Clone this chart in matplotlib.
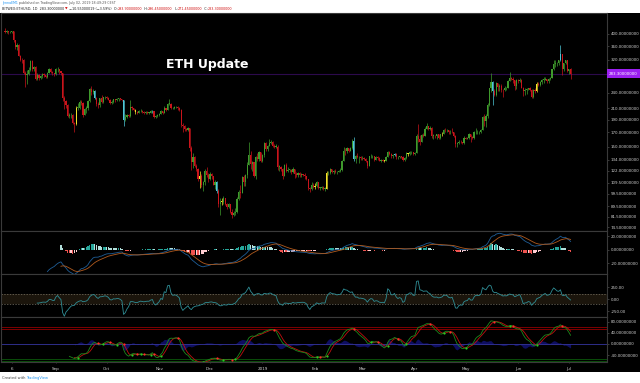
import numpy as np
import pandas as pd
import matplotlib
matplotlib.use('Agg')
import matplotlib.pyplot as plt
from matplotlib.patches import Rectangle
from matplotlib.ticker import FixedLocator, NullLocator, FormatStrFormatter

# daily ETHUSD candles, 2018-08-02 .. 2019-07-02
first_open = 412.0
closes = [
    # aug
    406, 409, 407, 408, 409, 378, 356, 364, 331, 320, 319, 286, 279, 282, 293,
    316, 294, 300, 271, 281, 273, 277, 283, 279, 275, 286, 295, 287, 284, 282,
    # sep
    295, 295, 289, 285, 229, 223, 216, 196, 197, 198, 185, 183, 211, 211, 222,
    220, 197, 209, 210, 224, 248, 241, 244, 229, 218, 216, 229, 221, 231, 232,
    # oct
    230, 226, 220, 222, 227, 225, 227, 229, 227, 225, 189, 195, 197, 196, 212,
    210, 207, 203, 202, 204, 205, 203, 201, 203, 202, 202, 204, 204, 194, 196, 198,
    # nov
    200, 204, 202, 211, 207, 218, 218, 210, 210, 212, 212, 211, 206, 182, 180,
    175, 173, 176, 149, 131, 137, 127, 124, 113, 116, 108, 110, 122, 117, 113,
    # dec
    118, 116, 108, 110, 102, 91, 93, 93, 96, 91, 89, 91, 85, 83, 84,
    85, 95, 101, 100, 115, 110, 117, 128, 140, 129, 131, 116, 137, 135, 143, 133,
    # jan
    140, 155, 147, 151, 155, 157, 151, 150, 150, 126, 126, 124, 116, 128, 122,
    123, 123, 120, 124, 118, 117, 119, 117, 118, 117, 116, 113, 105, 104, 108, 106,
    # feb
    107, 110, 105, 105, 106, 104, 104, 119, 119, 124, 120, 122, 120, 120,
    121, 123, 133, 145, 144, 148, 145, 148, 158, 135, 139, 137, 137, 136,
    # mar
    136, 135, 132, 127, 138, 138, 139, 134, 137, 136, 133, 134, 133, 133, 137,
    143, 141, 138, 140, 141, 137, 137, 138, 137, 134, 136, 142, 141, 143, 143, 141,
    # apr
    142, 164, 160, 157, 166, 165, 175, 179, 175, 177, 165, 165, 164, 168, 162,
    167, 168, 174, 173, 173, 170, 171, 170, 164, 154, 155, 157, 156, 155, 162,
    # may
    161, 162, 167, 163, 162, 170, 170, 170, 171, 173, 194, 187, 196, 216, 249,
    263, 244, 235, 261, 252, 255, 246, 245, 249, 251, 266, 272, 271, 268, 255, 268,
    # jun
    265, 269, 251, 243, 246, 247, 251, 245, 231, 246, 244, 260, 256, 263, 269,
    269, 271, 265, 271, 273, 294, 307, 310, 310, 318, 336, 294, 310, 319, 291,
    # jul
    293.9, 283.3,
]
highs = [
    421, 413, 411, 412, 412, 411, 380, 370, 366, 333, 325, 322, 289, 292, 300,
    320, 318, 303, 302, 285, 282, 280, 285, 284, 281, 288, 298, 298, 289, 286,
    297, 300, 296, 291, 286, 233, 226, 218, 202, 202, 200, 186, 213, 219, 225,
    225, 221, 211, 213, 226, 250, 255, 248, 245, 232, 222, 230, 235, 232, 234,
    234, 232, 227, 225, 228, 227, 229, 230, 230, 228, 225, 200, 199, 200, 225,
    214, 211, 208, 205, 206, 208, 206, 204, 204, 204, 203, 206, 206, 205, 198, 199,
    202, 206, 205, 214, 211, 220, 227, 219, 212, 213, 214, 213, 212, 208, 184,
    182, 177, 178, 177, 151, 142, 139, 129, 125, 121, 118, 111, 124, 126, 119,
    120, 119, 116, 112, 111, 104, 96, 96, 98, 96, 92, 92, 91, 87, 86,
    88, 97, 103, 108, 116, 117, 118, 131, 156, 144, 133, 131, 138, 142, 144, 143,
    141, 156, 156, 152, 160, 159, 158, 154, 153, 152, 128, 127, 125, 129, 130,
    126, 124, 124, 126, 124, 120, 120, 120, 119, 118, 119, 116, 113, 106, 110, 109,
    109, 111, 110, 106, 107, 107, 106, 121, 121, 125, 124, 123, 124, 121,
    123, 125, 134, 150, 148, 150, 149, 150, 160, 163, 140, 142, 138, 139,
    138, 137, 136, 133, 139, 141, 140, 139, 139, 138, 137, 135, 135, 134, 138,
    145, 144, 142, 141, 142, 142, 138, 139, 139, 138, 137, 143, 142, 144, 145, 143,
    143, 167, 183, 166, 167, 169, 178, 184, 180, 180, 178, 167, 166, 168, 168,
    168, 170, 175, 176, 175, 174, 173, 176, 171, 166, 157, 159, 159, 157, 164,
    163, 163, 169, 168, 165, 172, 176, 173, 172, 175, 196, 199, 199, 220, 251,
    284, 265, 247, 264, 262, 258, 260, 248, 254, 253, 267, 288, 275, 275, 268, 270,
    270, 272, 271, 253, 249, 249, 251, 253, 248, 247, 250, 264, 264, 265, 270,
    276, 276, 271, 272, 276, 296, 318, 320, 314, 318, 362, 336, 312, 320, 320,
    296, 296.45,
]
lows = [
    402, 402, 400, 403, 402, 374, 352, 348, 329, 315, 310, 282, 252, 259, 280,
    290, 290, 290, 267, 268, 269, 270, 272, 274, 272, 272, 284, 284, 279, 278,
    280, 288, 283, 280, 224, 208, 211, 195, 192, 193, 183, 170, 182, 206, 209,
    216, 194, 197, 201, 207, 222, 236, 237, 227, 214, 210, 212, 219, 220, 227,
    227, 225, 218, 218, 220, 222, 224, 224, 225, 223, 180, 188, 193, 194, 194,
    206, 205, 200, 199, 201, 203, 201, 199, 199, 200, 199, 201, 202, 192, 192, 194,
    196, 199, 200, 201, 205, 207, 216, 209, 208, 209, 210, 207, 205, 178, 170,
    172, 172, 172, 145, 123, 125, 126, 121, 111, 105, 106, 102, 108, 115, 110,
    112, 113, 108, 104, 100, 89, 83, 90, 91, 90, 87, 88, 84, 81, 82,
    83, 84, 94, 96, 100, 107, 107, 114, 128, 124, 122, 115, 113, 132, 133, 131,
    131, 137, 145, 145, 151, 154, 150, 148, 148, 123, 122, 121, 113, 116, 120,
    120, 120, 118, 119, 114, 115, 115, 115, 115, 116, 113, 112, 103, 101, 103, 105,
    104, 106, 104, 103, 104, 103, 102, 104, 117, 118, 119, 118, 119, 118,
    120, 120, 122, 132, 140, 142, 143, 144, 147, 133, 130, 136, 130, 134,
    134, 134, 131, 125, 127, 136, 136, 132, 134, 134, 132, 131, 132, 131, 132,
    137, 140, 136, 136, 139, 135, 135, 136, 136, 132, 133, 135, 139, 140, 141, 140,
    140, 142, 156, 152, 156, 163, 164, 175, 174, 173, 162, 160, 162, 161, 160,
    161, 165, 168, 171, 171, 168, 167, 169, 163, 150, 150, 154, 155, 153, 154,
    160, 160, 161, 156, 160, 161, 168, 168, 168, 169, 173, 180, 178, 193, 214,
    242, 215, 233, 233, 243, 244, 242, 232, 244, 246, 250, 266, 268, 262, 245, 248,
    262, 264, 250, 233, 236, 238, 245, 243, 229, 230, 240, 242, 254, 254, 260,
    262, 268, 262, 262, 268, 273, 292, 300, 302, 306, 316, 280, 291, 307, 287,
    283, 271.45,
]
# bars painted yellow / cyan by the chart's bar colouring
yellow_bars = [42, 77, 115, 128, 183, 190, 224, 238, 258, 314]
cyan_bars = [53, 70, 87, 125, 206, 230, 288, 328]

month_pos = [4, 30, 60, 91, 121, 152, 183, 211, 242, 272, 303, 333]
month_lbl = ['6', 'Sep', 'Oct', 'Nov', 'Dec', '2019', 'Feb', 'Mar', 'Apr',
             'May', 'Jun', 'Jul']
price_ticks = [400, 360, 320, 240, 210, 190, 170, 150, 134, 122, 109.5, 99.5,
               89.5, 81.5, 74.5]
last_price = 283.3

close = np.array(closes, float)
n = len(close)
idx = np.arange(n)
open_ = np.r_[first_open, close[:-1]]
high = np.maximum(np.array(highs, float), np.maximum(open_, close))
low = np.minimum(np.array(lows, float), np.minimum(open_, close))
hlc3 = (high + low + close) / 3


def ema(x, length):
    x = np.asarray(x, float)
    out = np.full(len(x), np.nan)
    ok = np.where(~np.isnan(x))[0]
    start = ok[0] + length - 1
    out[start] = x[ok[0]:start + 1].mean()
    a = 2.0 / (length + 1)
    for i in range(start + 1, len(x)):
        out[i] = a * x[i] + (1 - a) * out[i - 1]
    return out


def sma(x, length):
    return pd.Series(x).rolling(length).mean().values


# MACD 12/26/9
macd = ema(close, 12) - ema(close, 26)
signal = ema(macd, 9)
hist = macd - signal

# CCI 20
tp = pd.Series(hlc3)
md = tp.rolling(20).apply(lambda v: np.mean(np.abs(v - v.mean())), raw=True)
cci = ((tp - tp.rolling(20).mean()) / (0.015 * md)).values

# WaveTrend 10/21
esa = ema(hlc3, 10)
dd = ema(np.abs(hlc3 - esa), 10)
wt1 = ema((hlc3 - esa) / (0.015 * dd), 21)
wt2 = sma(wt1, 4)

W, H = 640, 383


def box(x0, y0, x1, y1):
    return [x0 / W, 1 - y1 / H, (x1 - x0) / W, (y1 - y0) / H]


fig = plt.figure(figsize=(6.4, 3.83), dpi=100, facecolor='white')
fig.add_artist(Rectangle((0, 1 - 372 / H), 1, (372 - 13) / H,
                         transform=fig.transFigure, facecolor='black',
                         edgecolor='none', zorder=-5))

ax_p = fig.add_axes(box(1, 13, 607, 231))
ax_m = fig.add_axes(box(1, 231, 607, 274), sharex=ax_p)
ax_c = fig.add_axes(box(1, 274, 607, 317), sharex=ax_p)
ax_w = fig.add_axes(box(1, 317, 607, 362), sharex=ax_p)

grid_col = '#3a3a3a'
for ax in (ax_p, ax_m, ax_c, ax_w):
    ax.set_facecolor('black')
    for s in ax.spines.values():
        s.set_color(grid_col)
        s.set_linewidth(0.8)
    ax.yaxis.tick_right()
    ax.tick_params(axis='y', which='both', length=1.5, width=0.4,
                   color='#666666', labelcolor='#d0d0d0', labelsize=2.9, pad=1)
    ax.tick_params(axis='x', which='both', bottom=False, labelbottom=False)
ax_p.set_xlim(-2.4, 355.5)

# --- price pane
cols = np.where(close >= open_, '#3f9a2c', '#c9141b').astype(object)
cols[yellow_bars] = '#f2e12a'
cols[cyan_bars] = '#4fc8d8'
ax_p.set_yscale('log')
ax_p.set_ylim(72.1, 480)
ax_p.vlines(idx, low, high, colors=cols, lw=0.5)
body_lo = np.minimum(open_, close)
body_h = np.maximum(np.abs(close - open_), close * 0.004)
ax_p.bar(idx, body_h, bottom=body_lo, width=0.7, color=cols, linewidth=0)
ax_p.axhline(last_price, color='#2c0a4c', lw=0.8, zorder=0)
ax_p.yaxis.set_major_locator(FixedLocator(price_ticks))
ax_p.yaxis.set_minor_locator(NullLocator())
ax_p.yaxis.set_major_formatter(FormatStrFormatter('%.8f'))
ax_p.annotate(f'{last_price:.8f}', xy=(1, last_price),
              xycoords=('axes fraction', 'data'), xytext=(1.5, 0),
              textcoords='offset points', va='center', ha='left',
              fontsize=2.9, color='white', annotation_clip=False,
              bbox=dict(boxstyle='square,pad=0.55', fc='#9b1ff0', ec='none'))
ax_p.text(0.341, 0.766, 'ETH Update', transform=ax_p.transAxes, color='white',
          fontsize=9, fontweight='bold', ha='center', va='center')

# --- MACD pane
ax_m.set_ylim(-35.6, 27.6)
prev = np.r_[np.nan, hist[:-1]]
hcol = np.where(hist >= 0,
                np.where(hist >= prev, '#26a69a', '#b2dfdb'),
                np.where(hist <= prev, '#ef5350', '#ffcdd2'))
ok = ~np.isnan(hist)
ax_m.bar(idx[ok], hist[ok], width=0.8, color=hcol[ok], linewidth=0)
ax_m.plot(idx, macd, color='#1f5d96', lw=0.6)
ax_m.plot(idx, signal, color='#b05a1e', lw=0.6)
ax_m.yaxis.set_major_locator(FixedLocator([20, 0, -20]))
ax_m.yaxis.set_major_formatter(FormatStrFormatter('%.8f'))

# --- CCI pane
ax_c.set_ylim(-375, 521)
ax_c.axhspan(-100, 100, color='#1b150c', lw=0)
for lv in (100, -100):
    ax_c.axhline(lv, color='#7a7466', lw=0.5, ls=(0, (2, 2)))
ax_c.plot(idx, cci, color='#2f8e96', lw=0.6)
ax_c.yaxis.set_major_locator(FixedLocator([250, 0, -250]))
ax_c.yaxis.set_major_formatter(FormatStrFormatter('%.2f'))

# --- WaveTrend pane
ax_w.set_ylim(-64.3, 96.4)
for lv in (60, 53):
    ax_w.axhline(lv, color='#7d0000', lw=0.7)
for lv in (-53, -60):
    ax_w.axhline(lv, color='#0a4d0a', lw=0.7)
ax_w.axhline(0, color='#3535a0', lw=0.6)
diff = wt1 - wt2
okw = ~np.isnan(diff)
ax_w.fill_between(idx[okw], 0, diff[okw], color='#1c1cc0', alpha=0.5, lw=0)
ax_w.plot(idx, wt2, color='#c01010', lw=0.6)
ax_w.plot(idx, wt1, color='#1c8a1c', lw=0.6)
sgn = np.sign(diff)
cross = np.where((sgn[1:] != sgn[:-1]) & okw[1:] & okw[:-1])[0] + 1
up = cross[diff[cross] > 0]
dn = cross[diff[cross] <= 0]
ax_w.plot(up, wt2[up], 'o', color='#22cc22', ms=1.6, mew=0)
ax_w.plot(dn, wt2[dn], 'o', color='#ff2a2a', ms=1.6, mew=0)
ax_w.yaxis.set_major_locator(FixedLocator([80, 40, 0, -40]))
ax_w.yaxis.set_major_formatter(FormatStrFormatter('%.8f'))

ax_w.set_xticks(month_pos)
ax_w.set_xticklabels(month_lbl)
ax_w.tick_params(axis='x', bottom=True, labelbottom=True, length=1,
                 width=0.4, color='#666666', labelcolor='#d0d0d0',
                 labelsize=3, pad=2.5)

# --- header / footer
renderer = fig.canvas.get_renderer()


def text_run(x, y, parts, size, weight='normal'):
    for s, c in parts:
        t = fig.text(x, y, s, color=c, fontsize=size, fontweight=weight,
                     va='center', ha='left')
        x = fig.transFigure.inverted().transform(
            (t.get_window_extent(renderer).x1, 0))[0]


text_run(2 / W, 1 - 3 / H, [('JennaEM1', '#2196f3'),
         (' published on TradingView.com, July 02, 2019 18:49:29 CEST', '#555555')], 2.3)
text_run(2 / W, 1 - 9 / H, [('BITWEX:ETHUSD, 1D  283.30000000 ', '#222222'),
                            ('\u25bc', '#d01010'),
                            (' \u221210.55000019 (\u22123.59%)  O:', '#222222'),
                            ('293.90000000', '#d01010'), ('  H:', '#222222'),
                            ('296.45000000', '#d01010'), ('  L:', '#222222'),
                            ('271.45000000', '#d01010'), ('  C:', '#222222'),
                            ('283.30000000', '#d01010')], 2.4)
text_run(2 / W, 1 - 378 / H, [('Created with ', '#444444'),
                              ('TradingView', '#2196f3')], 2.6)

fig.savefig('out.png', dpi=100, facecolor='white')
